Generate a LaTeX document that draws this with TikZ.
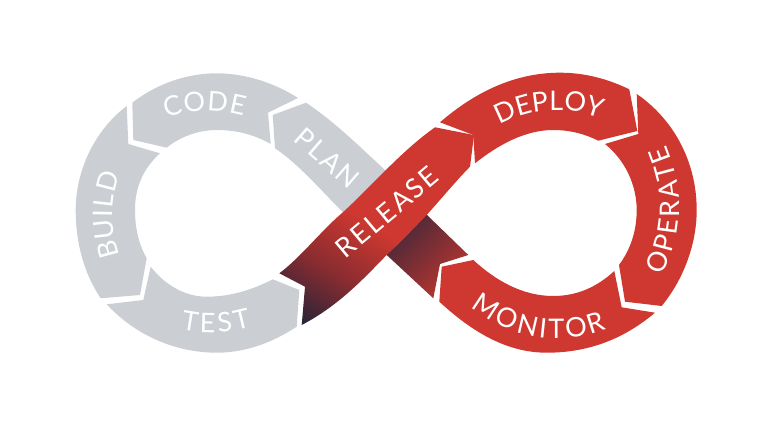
\documentclass[tikz,border=0pt]{standalone}
\usepackage{fontspec}
\usetikzlibrary{decorations.text}
\newfontfamily\labfont[LetterSpace=8]{Lato}
\definecolor{loopgrey}{HTML}{CBCED3}
\definecolor{loopred}{HTML}{CE3830}
\definecolor{ribmid}{HTML}{8A2C30}
\definecolor{ribnavy}{HTML}{2A2438}
\definecolor{tuckdark}{HTML}{45283A}
\definecolor{tuckred}{HTML}{B5352F}
\pgfdeclareverticalshading{releaseshade}{100bp}{color(0bp)=(loopred); color(39.8bp)=(loopred); color(50bp)=(ribmid); color(60bp)=(ribnavy); color(100bp)=(ribnavy)}
\pgfdeclareverticalshading{tuckshade}{100bp}{color(0bp)=(tuckdark); color(41.6bp)=(tuckdark); color(61.6bp)=(tuckred); color(100bp)=(tuckred)}
\tikzset{
greyseg/.style={fill=loopgrey},
redseg/.style={fill=loopred},
looplabel/.style={text=white, font=\labfont\fontsize{27}{27}\selectfont, inner sep=0pt},
arclabel/.style={decorate, decoration={text along path, text align=center, text color=white, text={|\labfont\fontsize{27}{27}\selectfont|#1}}}
}
\begin{document}
\begin{tikzpicture}
[x=1pt, y=-1pt]
\useasboundingbox (0,0) rectangle (768,427);
\fill [greyseg] (132.3,102.7) .. controls (155,85) and (185,73.3) .. (216.7,73.3) .. controls (245,73.3) and (275,83) .. (298,98) -- (268,112.7) -- (270.7,144) .. controls (255,135) and (237,130) .. (216.7,130) .. controls (198,130) and (180,137) .. (166.7,147.7) -- (133.3,140) -- cycle;
\fill [greyseg] (126.7,106) .. controls (95,130) and (75.7,170) .. (75.7,210) .. controls (75.7,245) and (85,275) .. (100.7,298.3) -- (140,295) -- (146.7,258.3) .. controls (139,245) and (135,228) .. (135,210) .. controls (135,185) and (145,167) .. (160,153.3) -- (128.3,144) -- cycle;
\fill [greyseg] (106.7,304.3) -- (143.3,300) -- (150.7,266.7) .. controls (165,285) and (185,296.7) .. (206.7,296.7) .. controls (230,296.7) and (252,290) .. (272.7,279.3) -- (299.3,290) -- (296.7,326.7) .. controls (272,343) and (245,352.7) .. (216.7,352.7) .. controls (175,352.7) and (135,335) .. (106.7,304.3) -- cycle;
\fill [greyseg] (306,102.7) .. controls (335,122) and (360,147) .. (385,170) -- (400,185) -- (360,228) -- (343,212) .. controls (322,192) and (300,165) .. (275,148.3) -- (272.7,115) -- cycle;
\begin{scope}
\clip (410,198) -- (427,215) -- (468.3,255) -- (440,264) -- (433.3,298.3) -- (386.7,255) -- (370,238) -- cycle;
\shade [shading=tuckshade, shading angle=225] (320,150) rectangle (520,350);
\end{scope}
\begin{scope}
\clip (279.3,273.3) .. controls (300,258) and (320,232) .. (341.7,213.3) .. controls (370,188) and (400,152) .. (435,127.3) -- (474,135) -- (470,166.7) .. controls (455,182) and (442,198) .. (426.7,215) .. controls (415,227) and (400,243) .. (386.7,255) .. controls (365,277) and (340,305) .. (301.7,325) -- (305,286.7) -- cycle;
\shade [shading=releaseshade, shading angle=147] (180,120) rectangle (480,420);
\end{scope}
\fill [redseg] (440,122.3) .. controls (475,92) and (515,72.7) .. (560,72.7) .. controls (585,72.7) and (608,79) .. (629.3,89.3) -- (637.3,131) -- (598.3,140.7) .. controls (585,134) and (570,130) .. (553.3,130) .. controls (525,130) and (498,145) .. (475,163.3) -- (473.3,135) -- cycle;
\fill [redseg] (636.7,94) .. controls (672,118) and (696.7,160) .. (696.7,210) .. controls (696.7,245) and (683,280) .. (661.7,306) -- (625,301.7) -- (619,265) .. controls (630,250) and (636.7,232) .. (636.7,210) .. controls (636.7,185) and (625,160) .. (605,144) -- (638.3,134) -- cycle;
\fill [redseg] (655,312.7) .. controls (625,338) and (590,352.7) .. (546.7,352.7) .. controls (505,352.7) and (470,330) .. (439.3,301.7) -- (441.7,266.7) -- (473.3,260) .. controls (495,280) and (522,296) .. (553.3,296) .. controls (577,296) and (597,287) .. (614.3,271) -- (621.7,307.3) -- cycle;
\path [arclabel={{C\kern1pt}{O\kern1pt}{D\kern1pt}E}] (150,125) .. controls (180,108) and (225,106) .. (260,122);
\path [arclabel={{B\kern1pt}{U\kern1pt}{I\kern1pt}{L\kern1pt}D}] (128,275) .. controls (108,235) and (108,195) .. (128,155);
\path [arclabel={{T\kern3pt}{E\kern3pt}{S\kern3pt}T}] (165,324) .. controls (195,336) and (235,336) .. (267,321);
\path [arclabel=DEPLOY] (482,137) .. controls (525,103) and (575,103) .. (620,127);
\path [arclabel={{O\kern2.5pt}{P\kern2.5pt}{E\kern2.5pt}{R\kern2.5pt}{A\kern2.5pt}{T\kern2.5pt}E}] (656,288) .. controls (686,235) and (686,185) .. (660,132);
\path [arclabel={{M\kern2.5pt}{O\kern2.5pt}{N\kern2.5pt}{I\kern2.5pt}{T\kern2.5pt}{O\kern2.5pt}R}] (458,296) .. controls (505,343) and (570,350) .. (622,322);
\node [looplabel, rotate=-41] (plan) at (327,158) {PLAN};
\node [looplabel, rotate=40] (release) at (387,212) {RELEASE};
\end{tikzpicture}
\end{document}
